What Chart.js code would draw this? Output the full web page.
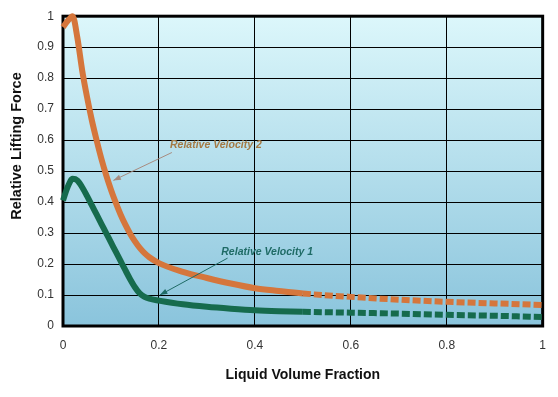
<!DOCTYPE html>
<html lang="en">
<head>
  <meta charset="UTF-8">
  <title>Relative Lifting Force</title>
  <script src="https://cdn.jsdelivr.net/npm/chart.js"></script>
  <style>
    html, body {
      margin: 0;
      padding: 0;
      background: #fff;
    }
    .wrap {
      width: 558px;
      height: 397px;
    }
  </style>
</head>
<body>
  <div class="wrap"><canvas id="chart" width="558" height="397"></canvas></div>

  <script>
    // liquid volume fraction (x)
    const fraction = [0, 0.01, 0.02, 0.03, 0.04, 0.05, 0.06, 0.07, 0.08, 0.09, 0.1, 0.11, 0.12, 0.13, 0.14, 0.15,
      0.16, 0.17, 0.18, 0.2, 0.25, 0.3, 0.35, 0.4, 0.45, 0.5, 0.6, 0.7, 0.8, 0.9, 1.0];
    const velocity2 = [0.965, 0.985, 1.0, 0.93, 0.825, 0.74, 0.665, 0.6, 0.54, 0.487, 0.44, 0.398, 0.36, 0.327, 0.298, 0.273,
      0.252, 0.235, 0.222, 0.203, 0.175, 0.155, 0.137, 0.122, 0.113, 0.105, 0.094, 0.085, 0.078, 0.073, 0.068];
    const velocity1 = [0.405, 0.45, 0.475, 0.47, 0.448, 0.42, 0.39, 0.36, 0.33, 0.3, 0.27, 0.24, 0.21, 0.18, 0.151, 0.125,
      0.105, 0.094, 0.088, 0.082, 0.07, 0.062, 0.056, 0.051, 0.048, 0.046, 0.043, 0.04, 0.036, 0.033, 0.029];
    const xTicks = [0, 0.2, 0.4, 0.6, 0.8, 1];
    const yTicks = [0, 0.1, 0.2, 0.3, 0.4, 0.5, 0.6, 0.7, 0.8, 0.9, 1];
    const measuredUpTo = 0.5; // dashed beyond this
    const yTitle = "Relative Lifting Force";

    const notes = [
      { text: "Relative Velocity 2", at: [0.223, 0.584], from: [0.227, 0.56], to: [0.105, 0.47], color: "#a47a45", arrow: "#a88c80" },
      { text: "Relative Velocity 1", at: [0.33, 0.239], from: [0.343, 0.219], to: [0.202, 0.1], color: "#1f6b66", arrow: "#1f6b66" }
    ];

    const font = "'Liberation Sans', Arial, sans-serif";
    const toPoints = ys => fraction.map((x, i) => ({ x, y: ys[i] }));
    const dashAfter = ctx => ctx.p0.parsed.x >= measuredUpTo - 1e-9 ? [8, 3] : undefined;

    const frame = {
      id: "frame",
      beforeDraw(chart) {
        const { ctx, chartArea: a } = chart;
        const g = ctx.createLinearGradient(0, a.top, 0, a.bottom);
        g.addColorStop(0, "#dcf7fb");
        g.addColorStop(1, "#8ac4dc");
        ctx.save();
        ctx.fillStyle = g;
        ctx.fillRect(a.left, a.top, a.right - a.left, a.bottom - a.top);

        // y axis title, set a bit above the plot centre as in the original
        ctx.translate(17, 146);
        ctx.rotate(-Math.PI / 2);
        ctx.font = "bold 14.5px " + font;
        ctx.fillStyle = "#111";
        ctx.textAlign = "center";
        ctx.textBaseline = "middle";
        ctx.fillText(yTitle, 0, 0);
        ctx.restore();
      },
      beforeDatasetsDraw(chart) {
        const { ctx, chartArea: a } = chart;
        ctx.save();
        ctx.strokeStyle = "#000";
        ctx.lineWidth = 3;
        ctx.strokeRect(a.left, a.top, a.right - a.left, a.bottom - a.top);
        ctx.restore();
      },
      afterDatasetsDraw(chart) {
        const { ctx, scales } = chart;
        ctx.save();
        notes.forEach(n => {
          const px = v => scales.x.getPixelForValue(v);
          const py = v => scales.y.getPixelForValue(v);
          const x1 = px(n.from[0]), y1 = py(n.from[1]);
          const x2 = px(n.to[0]), y2 = py(n.to[1]);
          ctx.strokeStyle = n.arrow;
          ctx.fillStyle = n.arrow;
          ctx.lineWidth = 1;
          ctx.beginPath();
          ctx.moveTo(x1, y1);
          ctx.lineTo(x2, y2);
          ctx.stroke();
          const ang = Math.atan2(y2 - y1, x2 - x1);
          ctx.beginPath();
          ctx.moveTo(x2, y2);
          ctx.lineTo(x2 - 8 * Math.cos(ang - 0.35), y2 - 8 * Math.sin(ang - 0.35));
          ctx.lineTo(x2 - 8 * Math.cos(ang + 0.35), y2 - 8 * Math.sin(ang + 0.35));
          ctx.closePath();
          ctx.fill();

          ctx.font = "italic bold 10.5px " + font;
          ctx.fillStyle = n.color;
          ctx.textBaseline = "middle";
          ctx.textAlign = "left";
          ctx.fillText(n.text, px(n.at[0]), py(n.at[1]));
        });
        ctx.restore();
      }
    };

    new Chart(document.getElementById("chart"), {
      type: "line",
      data: {
        datasets: [
          {
            label: "Relative Velocity 2",
            data: toPoints(velocity2),
            borderColor: "#d5763c",
            borderWidth: 6,
            pointRadius: 0,
            clip: false,
            cubicInterpolationMode: "monotone",
            segment: { borderDash: dashAfter }
          },
          {
            label: "Relative Velocity 1",
            data: toPoints(velocity1),
            borderColor: "#166b4d",
            borderWidth: 6,
            pointRadius: 0,
            clip: false,
            cubicInterpolationMode: "monotone",
            segment: { borderDash: dashAfter }
          }
        ]
      },
      options: {
        responsive: false,
        animation: false,
        layout: { padding: { left: 0, right: 13, top: 16, bottom: 0 } },
        plugins: {
          legend: { display: false },
          tooltip: { enabled: false }
        },
        scales: {
          x: {
            type: "linear",
            min: 0,
            max: 1,
            afterBuildTicks: s => { s.ticks = xTicks.map(v => ({ value: v })); },
            afterFit: s => { s.height = 71; },
            grid: { color: "#000", lineWidth: 1, drawTicks: false },
            border: { display: false },
            ticks: {
              padding: 12,
              color: "#333",
              font: { family: font, size: 12 },
              callback: v => String(v)
            },
            title: {
              display: true,
              text: "Liquid Volume Fraction",
              color: "#111",
              font: { family: font, size: 14, weight: "bold" },
              padding: { top: 0, bottom: 13 }
            }
          },
          y: {
            min: 0,
            max: 1,
            afterBuildTicks: s => { s.ticks = yTicks.map(v => ({ value: v })); },
            afterFit: s => { s.width = 63; },
            grid: { color: "#000", lineWidth: 1, drawTicks: false },
            border: { display: false },
            ticks: {
              padding: 9,
              color: "#333",
              font: { family: font, size: 12 },
              callback: v => String(v)
            }
          }
        }
      },
      plugins: [frame]
    });
  </script>
</body>
</html>
